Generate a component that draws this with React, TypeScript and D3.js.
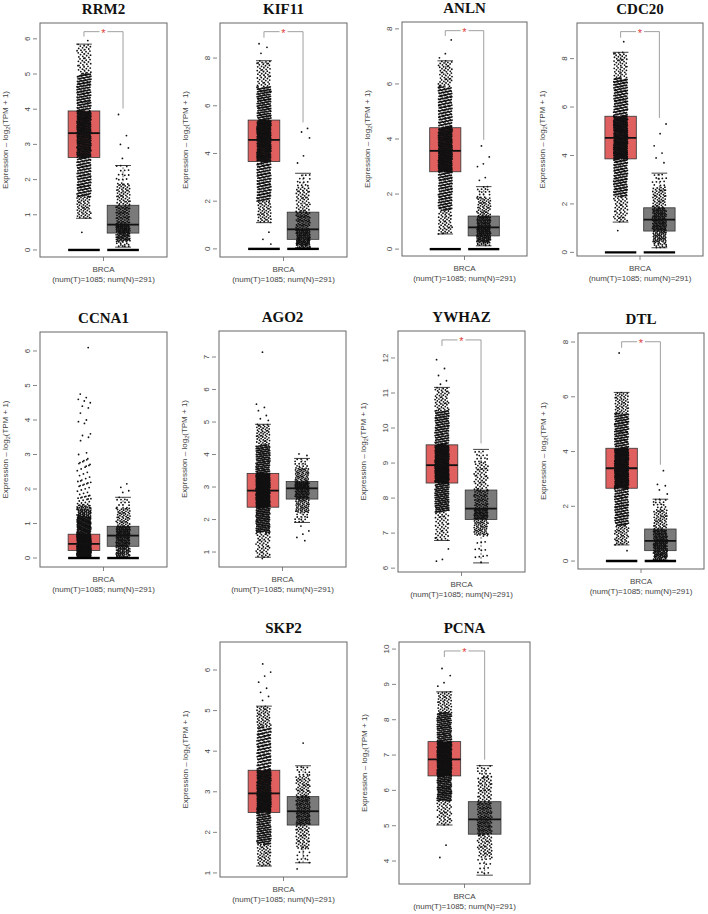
import React, { useEffect, useRef } from "react";
import * as d3 from "d3";

// values
const genes = ["RRM2", "KIF11", "ANLN", "CDC20", "CCNA1", "AGO2", "YWHAZ", "DTL", "SKP2", "PCNA"];
const groups = ["Tumor", "Normal"];
const sampleCounts = [1085, 291];
const cancerType = "BRCA";

const yLimits = [
	[-0.2, 6.45], [-0.34, 9.47], [-0.25, 8.25], [-0.15, 9.47], [-0.26, 6.55],
	[0.54, 7.8], [5.89, 12.77], [-0.29, 8.33], [0.9, 6.69], [3.35, 10.2],
];
const yTicks = [
	[0, 1, 2, 3, 4, 5, 6], [0, 2, 4, 6, 8], [0, 2, 4, 6, 8], [0, 2, 4, 6, 8], [0, 1, 2, 3, 4, 5, 6],
	[1, 2, 3, 4, 5, 6, 7], [6, 7, 8, 9, 10, 11, 12], [0, 2, 4, 6, 8], [1, 2, 3, 4, 5, 6], [4, 5, 6, 7, 8, 9, 10],
];

// [lower whisker, ~5%, Q1, median, Q3, ~95%, upper whisker]
const tumorQuantiles = [
	[0.9, 1.5, 2.63, 3.32, 3.95, 5.0, 5.85],
	[1.1, 2.0, 3.66, 4.57, 5.4, 6.8, 7.89],
	[0.55, 1.4, 2.81, 3.57, 4.41, 5.9, 6.84],
	[1.25, 2.3, 3.86, 4.73, 5.62, 7.2, 8.26],
	[0, 0.04, 0.22, 0.41, 0.69, 1.2, 1.42],
	[0.84, 1.6, 2.38, 2.89, 3.42, 4.3, 4.93],
	[6.79, 7.6, 8.43, 8.94, 9.52, 10.5, 11.16],
	[0.59, 1.3, 2.66, 3.39, 4.12, 5.4, 6.16],
	[1.17, 1.7, 2.49, 2.96, 3.53, 4.6, 5.11],
	[5.02, 5.7, 6.41, 6.88, 7.38, 8.2, 8.79],
];
const normalQuantiles = [
	[0.08, 0.25, 0.48, 0.72, 1.27, 1.9, 2.4],
	[0.05, 0.15, 0.4, 0.82, 1.54, 2.6, 3.17],
	[0.12, 0.25, 0.48, 0.79, 1.2, 1.9, 2.27],
	[0.19, 0.4, 0.88, 1.35, 1.84, 2.7, 3.27],
	[0, 0.08, 0.34, 0.65, 0.92, 1.45, 1.76],
	[1.91, 2.2, 2.63, 2.96, 3.17, 3.6, 3.88],
	[6.15, 6.95, 7.39, 7.7, 8.23, 9.0, 9.39],
	[0.03, 0.12, 0.38, 0.74, 1.17, 1.9, 2.26],
	[1.25, 1.6, 2.18, 2.52, 2.88, 3.4, 3.64],
	[3.6, 4.1, 4.76, 5.18, 5.68, 6.4, 6.7],
];
const tumorOutliers = [
	[5.95, 0.5],
	[8.6, 8.45, 8.2, 0.7, 0.4, 0.2],
	[7.6, 7.1, 6.95],
	[8.7, 0.9],
	[3.0, 3.05, 3.4, 3.5, 3.55, 3.6, 3.9, 3.95, 4.0, 4.2, 4.35, 4.4, 4.5, 4.55, 4.6, 4.65, 4.75, 6.1],
	[7.15, 5.55, 5.45, 5.35, 5.2, 5.1, 5.05, 0.8],
	[11.95, 11.7, 11.5, 11.35, 11.25, 6.55, 6.25, 6.2],
	[7.6, 0.38],
	[6.15, 5.95, 5.85, 5.7, 5.55, 5.45, 5.35, 5.25],
	[9.45, 9.25, 9.05, 8.95, 4.45, 4.1],
];
const normalOutliers = [
	[3.85, 3.25, 3.0, 2.9, 2.6],
	[5.05, 4.9, 4.65, 3.9, 3.6],
	[3.75, 3.35, 3.1, 3.0, 2.6, 2.5],
	[5.3, 4.9, 4.4, 4.1, 3.9, 3.7],
	[2.15, 2.05, 1.95, 1.9],
	[4.02, 3.97, 1.8, 1.65, 1.55, 1.45, 1.35],
	[],
	[3.3, 2.8, 2.75, 2.6, 2.45],
	[4.2, 1.1],
	[],
];
// sparse run of outliers above the whisker: [from, to, count]
const tumorSparse = [null, null, null, null, [1.45, 2.9, 70], null, null, null, null, null];
const zeroLine = [true, true, true, true, true, false, false, true, false, false];
const significant = [true, true, true, true, false, false, true, true, false, true];

// layout: plot box [left, top, right, bottom] of every panel
const frames = [
	[40, 23, 167, 257], [220, 23, 347, 257], [402, 22, 527, 256], [577, 23, 703, 256],
	[40, 332, 167, 567], [219, 331, 346, 567], [398, 331, 525, 572], [578, 333, 704, 569],
	[220, 642, 347, 877], [399, 642, 530, 884],
];
const fillColors = ["#e05f5f", "#7a7a7a"];
const sans = "'Liberation Sans', Arial, sans-serif";
const fractions = [0.05, 0.2, 0.25, 0.25, 0.2, 0.05];

// deterministic low-discrepancy pairs used for the jitter layout
const R2a = 0.7548776662466927;
const R2b = 0.5698402909980532;
const frac = (v: number) => v - Math.floor(v);

const App: React.FC = () => {
	const svgRef = useRef<SVGSVGElement>(null);

	useEffect(() => {
		if (!svgRef.current) return;
		const svg = d3.select(svgRef.current);
		svg.selectAll("*").remove();

		genes.forEach((gene, i) => {
			const [x0, y0, x1, y1] = frames[i];
			const g = svg.append("g");
			const y = d3.scaleLinear().domain(yLimits[i]).range([y1, y0]);
			const x = d3.scalePoint<string>().domain(groups).range([x0, x1]).padding(1.125);
			const step = x.step();
			const boxW = step * 0.81;
			const jitterW = boxW * 0.44;
			const cx = (x0 + x1) / 2;

			// title
			g.append("text")
				.attr("x", cx)
				.attr("y", y0 - 9)
				.attr("text-anchor", "middle")
				.attr("font-family", "'Liberation Serif', 'Times New Roman', serif")
				.attr("font-weight", "bold")
				.attr("font-size", 15)
				.attr("fill", "#111")
				.text(gene);

			// y axis
			yTicks[i].forEach((t) => {
				g.append("line")
					.attr("x1", x0 - 7)
					.attr("x2", x0 - 3)
					.attr("y1", y(t))
					.attr("y2", y(t))
					.attr("stroke", "#666")
					.attr("stroke-width", 0.8);
				g.append("text")
					.attr("transform", `translate(${x0 - 10},${y(t)}) rotate(-90)`)
					.attr("text-anchor", "middle")
					.attr("font-family", sans)
					.attr("font-size", 8)
					.attr("fill", "#444")
					.text(t);
			});
			const ylab = g
				.append("text")
				.attr("transform", `translate(${x0 - 32},${(y0 + y1) / 2}) rotate(-90)`)
				.attr("text-anchor", "middle")
				.attr("font-family", sans)
				.attr("font-size", 8)
				.attr("fill", "#444");
			ylab.append("tspan").text("Expression \u2013 log");
			ylab.append("tspan").attr("font-size", 5.5).attr("dy", 2).text("2");
			ylab.append("tspan").attr("dy", -2).text("(TPM + 1)");

			// x axis
			g.append("line")
				.attr("x1", cx)
				.attr("x2", cx)
				.attr("y1", y1)
				.attr("y2", y1 + 4)
				.attr("stroke", "#666")
				.attr("stroke-width", 0.8);
			g.append("text")
				.attr("x", cx)
				.attr("y", y1 + 15)
				.attr("text-anchor", "middle")
				.attr("font-family", sans)
				.attr("font-size", 8)
				.attr("fill", "#444")
				.text(cancerType);
			g.append("text")
				.attr("x", cx)
				.attr("y", y1 + 25)
				.attr("text-anchor", "middle")
				.attr("font-family", sans)
				.attr("font-size", 8)
				.attr("fill", "#444")
				.text(`(num(T)=${sampleCounts[0]}; num(N)=${sampleCounts[1]})`);

			groups.forEach((grp, gi) => {
				const q = gi === 0 ? tumorQuantiles[i] : normalQuantiles[i];
				const outs = gi === 0 ? tumorOutliers[i] : normalOutliers[i];
				const sparse = gi === 0 ? tumorSparse[i] : null;
				const c = x(grp) as number;
				const n = sampleCounts[gi] - outs.length - (sparse ? sparse[2] : 0);

				// dashed whiskers
				g.append("line")
					.attr("x1", c).attr("x2", c)
					.attr("y1", y(q[0])).attr("y2", y(q[2]))
					.attr("stroke", "#000").attr("stroke-width", 0.6).attr("stroke-dasharray", "2,2");
				g.append("line")
					.attr("x1", c).attr("x2", c)
					.attr("y1", y(q[4])).attr("y2", y(q[6]))
					.attr("stroke", "#000").attr("stroke-width", 0.6).attr("stroke-dasharray", "2,2");

				// box
				g.append("rect")
					.attr("x", c - boxW / 2)
					.attr("y", y(q[4]))
					.attr("width", boxW)
					.attr("height", y(q[2]) - y(q[4]))
					.attr("fill", fillColors[gi])
					.attr("stroke", "#333")
					.attr("stroke-width", 0.8);

				// jittered points
				const pts: [number, number][] = [];
				let k = gi * 997 + i * 131;
				fractions.forEach((f, s) => {
					const cnt = Math.round(f * n);
					for (let j = 0; j < cnt; j++, k++) {
						const u = frac(0.5 + k * R2a);
						const v = frac(0.5 + k * R2b);
						pts.push([c + (v - 0.5) * jitterW, y(q[s] + (q[s + 1] - q[s]) * u)]);
					}
				});
				if (sparse) {
					for (let j = 0; j < sparse[2]; j++, k++) {
						const u = frac(0.5 + k * R2a);
						const v = frac(0.5 + k * R2b);
						pts.push([c + (v - 0.5) * jitterW, y(sparse[0] + (sparse[1] - sparse[0]) * u * u)]);
					}
				}
				outs.forEach((o) => {
					k++;
					const v = frac(0.5 + k * R2b);
					pts.push([c + (v - 0.5) * jitterW, y(o)]);
				});
				g.append("g")
					.selectAll("circle")
					.data(pts)
					.join("circle")
					.attr("cx", (d) => d[0])
					.attr("cy", (d) => d[1])
					.attr("r", 0.9)
					.attr("fill", "#111");

				// median and caps
				g.append("line")
					.attr("x1", c - boxW / 2).attr("x2", c + boxW / 2)
					.attr("y1", y(q[3])).attr("y2", y(q[3]))
					.attr("stroke", "#111").attr("stroke-width", 1.8);
				[q[0], q[6]].forEach((w) => {
					g.append("line")
						.attr("x1", c - boxW / 4).attr("x2", c + boxW / 4)
						.attr("y1", y(w)).attr("y2", y(w))
						.attr("stroke", "#111").attr("stroke-width", 0.8);
				});
				if (zeroLine[i]) {
					g.append("line")
						.attr("x1", c - boxW / 2).attr("x2", c + boxW / 2)
						.attr("y1", y(0)).attr("y2", y(0))
						.attr("stroke", "#000").attr("stroke-width", 2.4);
				}
			});

			// significance bracket
			if (significant[i]) {
				const ct = x(groups[0]) as number;
				const cn = x(groups[1]) as number;
				const [lo, hi] = yLimits[i];
				const yb = y(hi - (hi - lo) * 0.037);
				const tMax = d3.max([tumorQuantiles[i][6], ...tumorOutliers[i]]) as number;
				const nMax = d3.max([normalQuantiles[i][6], ...normalOutliers[i]]) as number;
				const tEnd = Math.min(y(tMax) - 4, yb + 6);
				const nEnd = y(nMax) - 6;
				const mid = (ct + cn) / 2;
				const stroke = "#888";
				g.append("path")
					.attr("d", `M${ct},${tEnd}V${yb}H${mid - 4}M${mid + 4},${yb}H${cn}V${nEnd}`)
					.attr("fill", "none")
					.attr("stroke", stroke)
					.attr("stroke-width", 0.8);
				g.append("text")
					.attr("x", mid)
					.attr("y", yb + 5)
					.attr("text-anchor", "middle")
					.attr("font-family", sans)
					.attr("font-size", 11)
					.attr("fill", "#e03a3a")
					.text("*");
			}

			// plot frame
			g.append("rect")
				.attr("x", x0)
				.attr("y", y0)
				.attr("width", x1 - x0)
				.attr("height", y1 - y0)
				.attr("fill", "none")
				.attr("stroke", "#666")
				.attr("stroke-width", 1);
		});
	}, []);

	return (
		<svg
			ref={svgRef}
			width={708}
			height={914}
			style={{ position: "absolute", left: 0, top: 0, background: "#fff" }}
		/>
	);
};

export default App;
